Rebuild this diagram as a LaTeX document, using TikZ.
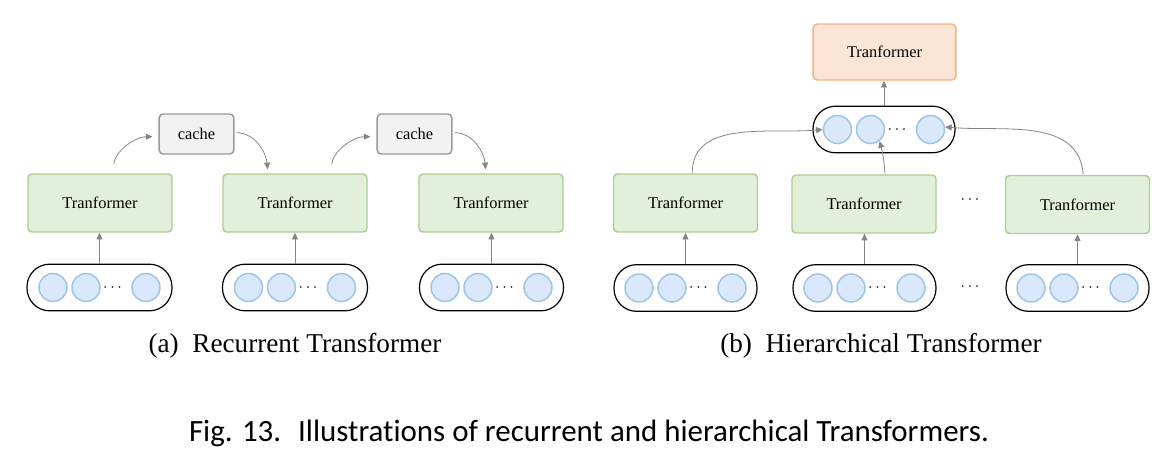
\documentclass[tikz,border=0pt]{standalone}
\usepackage{fontspec}
\setmainfont{Liberation Serif}
\newfontfamily\capfont[Ligatures={NoCommon}]{Carlito}
\usetikzlibrary{arrows.meta}
\definecolor{gfill}{HTML}{E2EFDA}
\definecolor{gdraw}{HTML}{A9D18E}
\definecolor{ofill}{HTML}{FBE5D6}
\definecolor{odraw}{HTML}{F4B183}
\definecolor{cfill}{HTML}{F2F2F2}
\definecolor{cdraw}{HTML}{9A9A9A}
\definecolor{bfill}{HTML}{DAE8FC}
\definecolor{bdraw}{HTML}{9DC3E6}
\definecolor{arrc}{HTML}{858585}
\newcommand\mkpill[4]{%
  \node[pill,minimum width=#4] (#1) at (#2,#3) {};
  \node[tok] (#1c1) at (#2-46.5,#3) {};
  \node[tok] (#1c2) at (#2-13.5,#3) {};
  \node[dots] (#1d) at (#2+13,#3) {$\cdots$};
  \node[tok] (#1c3) at (#2+46.5,#3) {};
}
\begin{document}
\begin{tikzpicture}[x=0.75pt,y=-0.75pt,
  tbox/.style={draw=gdraw,fill=gfill,line width=1.1pt,rounded corners=3pt,
    minimum width=108pt,minimum height=43.5pt,inner sep=0pt,font=\fontsize{12.3}{14}\selectfont},
  topbox/.style={tbox,draw=odraw,fill=ofill,minimum width=107pt,minimum height=42pt},
  cachebox/.style={draw=cdraw,fill=cfill,line width=1.1pt,rounded corners=3pt,
    minimum width=56pt,minimum height=30pt,inner sep=0pt,font=\fontsize{12.3}{14}\selectfont},
  pill/.style={draw=black,line width=0.9pt,rounded corners=17pt,minimum height=35pt,inner sep=0pt},
  tok/.style={circle,draw=bdraw,fill=bfill,line width=1.1pt,minimum size=21pt,inner sep=0pt},
  arr/.style={draw=arrc,line width=0.6pt,-{Triangle[length=5pt,width=4.5pt]}},
  dots/.style={font=\fontsize{12.5}{14}\selectfont,inner sep=0pt},
  subcap/.style={font=\fontsize{20.4}{24}\selectfont,inner sep=0pt,anchor=base},
]
\useasboundingbox (0,0) rectangle (1158,455);

% ---------- (a) recurrent ----------
\node[tbox] (b1) at (100,203) {Tranformer};
\node[tbox] (b2) at (295,203) {Tranformer};
\node[tbox] (b3) at (491,203) {Tranformer};
\node[cachebox] (k1) at (196.5,134) {cache};
\node[cachebox] (k2) at (414.5,134) {cache};
\mkpill{L1}{99.5}{287.5}{108.75pt}
\mkpill{L2}{295}{287.5}{108.75pt}
\mkpill{L3}{491.5}{287.5}{108pt}
\foreach \i in {1,2,3}{\draw[arr] (L\i.north) -- (L\i.north |- b\i.south);}
\draw[arr,shorten <=6.75pt,shorten >=4.5pt] ([xshift=9.75pt]b1.north) to[out=85,in=180] ([yshift=-2pt]k1.west);
\draw[arr,shorten <=1.5pt,shorten >=3pt] ([yshift=1pt]k1.east) to[out=0,in=95] ([xshift=-20.25pt]b2.north);
\draw[arr,shorten <=6.75pt,shorten >=4.5pt] ([xshift=27pt]b2.north) to[out=85,in=180] ([yshift=-2pt]k2.west);
\draw[arr,shorten <=1.5pt,shorten >=3pt] ([yshift=1pt]k2.east) to[out=0,in=95] ([xshift=-3.75pt]b3.north);

% ---------- (b) hierarchical ----------
\node[topbox] (T) at (884.5,52) {Tranformer};
\mkpill{M}{884}{129.5}{106.5pt}
\node[tbox] (A) at (685.5,203) {Tranformer};
\node[tbox] (B) at (864,204) {Tranformer};
\node[tbox] (C) at (1077.5,204.5) {Tranformer};
\node[dots] (dt) at (970,200) {$\cdots$};
\mkpill{PA}{685.5}{288}{107.25pt}
\mkpill{PB}{864.5}{288}{107.25pt}
\mkpill{PC}{1077.5}{288}{107.25pt}
\node[dots] (db) at (970,287) {$\cdots$};
\draw[arr] (PA.north) -- (PA.north |- A.south);
\draw[arr] (PB.north) -- (PB.north |- B.south);
\draw[arr] (PC.north) -- (PC.north |- C.south);
\draw[arr] (M.north) -- (M.north |- T.south);
\draw[arr] ([xshift=5pt]A.north) to[out=90,in=185] (Mc1.west);
\draw[arr] ([xshift=15.75pt,yshift=0.75pt]B.north) to[out=95,in=-75] (Mc2.-52);
\draw[arr] ([xshift=4.25pt,yshift=0.75pt]C.north) to[out=95,in=-5] (Mc3.10);

% ---------- captions ----------
\node[subcap] (capa) at (295,352.5) {(a)\hspace{0.5em}Recurrent Transformer};
\node[subcap] (capb) at (881,352.5) {(b)\hspace{0.5em}Hierarchical Transformer};
\node[anchor=base,inner sep=0pt,font=\capfont\fontsize{23.2}{27}\selectfont] (fig) at (589,441.5)
  {Fig. 13.\hspace{0.55em}Illustrations of recurrent and hierarchical Transformers.};
\end{tikzpicture}
\end{document}
